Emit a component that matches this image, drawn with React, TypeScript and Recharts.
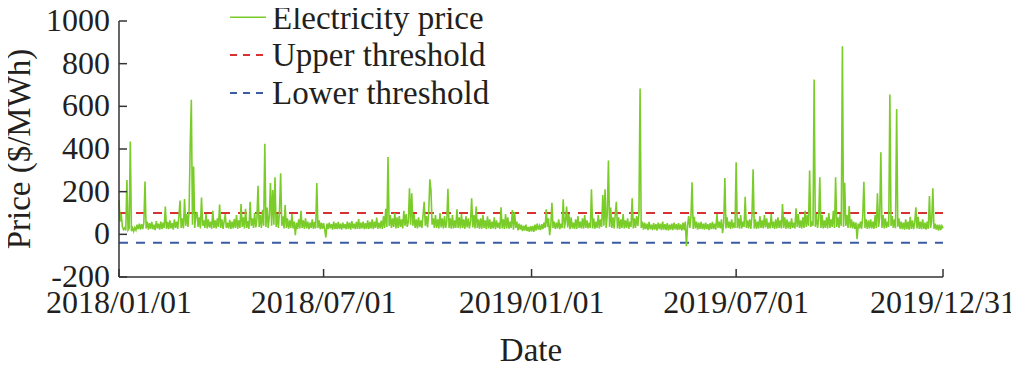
import React from 'react';
import { LineChart, Line, XAxis, YAxis, ReferenceLine, Legend, Label } from 'recharts';

// Daily electricity price ($/MWh); index 0 = 2018/01/01
const price2018: number[] = [
  160, 60, 95, 35, 22, 30, 18, 255, 20, 28, 435, 15, 30, 14, 32, 20, 45, 24, 50, 22,
  48, 25, 55, 247, 28, 60, 22, 52, 26, 58, 24, 45, 20, 62, 28, 50, 22, 60, 25, 55,
  30, 130, 26, 58, 24, 65, 28, 52, 22, 70, 30, 60, 26, 85, 158, 30, 75, 28, 165, 40,
  95, 35, 110, 416, 631, 45, 318, 30, 90, 105, 35, 80, 28, 172, 40, 65, 30, 95, 28, 70,
  32, 60, 26, 110, 30, 65, 28, 75, 35, 140, 30, 70, 26, 60, 95, 30, 55, 28, 68, 25,
  60, 28, 72, 30, 90, 26, 65, 30, 142, 35, 80, 28, 120, 30, 62, 26, 153, 40, 75, 30,
  100, 32, 70, 228, 35, 90, 30, 115, 40, 424, 35, 125, 30, 85, 240, 40, 208, 45, 268, 35,
  95, 30, 110, 286, 40, 85, 28, 137, 30, 75, 26, 65, 30, 95, 28, 60, -4, 55, 25, 70,
  28, 110, 30, 65, 26, 75, 28, 60, 24, 55, 30, 70, 26, 58, 28, 240, 30, 65, 24, 55,
  26, 52, 22, -15, 50, 24, 55, 28, 48, 22, 60, 25, 52, 24, 58, 26, 50, 22, 55, 28,
  48, 24, 60, 26, 55, 22, 62, 28, 50, 24, 58, 26, 72, 25, 55, 28, 60, 24, 52, 26,
  65, 25, 58, 28, 70, 24, 60, 30, 78, 26, 55, 28, 64, 25, 85, 30, 120, 35, 362, 40,
  90, 30, 75, 35, 100, 28, 80, 30, 85, 35, 70, 28, 110, 40, 95, 35, 60, 216, 45, 192,
  40, 95, 30, 70, 28, 80, 34, 65, 30, 90, 153, 40, 85, 32, 100, 258, 208, 45, 75, 30,
  90, 30, 70, 28, 100, 32, 75, 28, 85, 30, 60, 213, 30, 75, 26, 90, 28, 65, 30, 117,
  30, 80, 28, 95, 30, 70, 26, 85, 32, 75, 28, 60, 169, 32, 90, 28, 130, 30, 70, 26,
  75, 26, 90, 30, 65, 24, 85, 28, 70, 26, 60, 28, 80, 24, 65, 30, 55, 26, 127, 28,
  70, 25, 95, 28, 80, 26, 60, 30, 114, 22, 105, 30, 60, 18, 50, 22, 45, 15, 40, 18,
  45, 15, 35, 12, 38,
];

// Daily electricity price ($/MWh); index 0 = 2019/01/01
const price2019: number[] = [
  14, 40, 12, 45, 18, 50, 22, 40, 20, 48, 25, 55, 30, 117, 35, 75, -4, 40, 148, 30,
  60, 25, 55, 28, 70, 24, 50, 30, 164, 28, 60, 130, 32, 95, 24, 80, 28, 55, 26, 70,
  25, 85, 30, 60, 28, 75, 26, 90, 30, 65, 28, 55, 30, 211, 28, 75, 26, 60, 30, 90,
  28, 70, 35, 184, 40, 211, 30, 95, 346, 35, 125, 30, 80, 28, 90, 153, 28, 80, 25, 70,
  30, 95, 28, 65, 30, 75, 26, 60, 35, 169, 28, 75, 30, 85, 40, 95, 683, 30, 60, 22,
  55, 25, 50, 20, 58, 24, 45, 20, 52, 22, 48, 18, 55, 24, 50, 20, 60, 22, 48, 20,
  52, 18, 45, 22, 50, 20, 55, 24, 48, 20, 52, 22, 46, 18, 55, 20, 60, -56, 40, 85,
  30, 82, 244, 25, 82, 28, 60, 22, 55, 26, 58, 24, 50, 22, 55, 25, 48, 20, 52, 24,
  58, 24, 50, 22, 95, 30, 60, 28, 70, 5, 55, 264, 28, 80, 30, 60, 25, 70, 28, 55,
  30, 338, 30, 75, 26, 90, 28, 60, 35, 176, 30, 65, 28, 70, 26, 85, 305, 28, 70, 25,
  60, 28, 85, 30, 65, 28, 90, 32, 75, 26, 55, 28, 95, 30, 60, 26, 70, 28, 80, 30,
  65, 28, 142, 30, 80, 26, 70, 28, 60, 25, 75, 30, 55, 28, 122, 35, 95, 30, 65, 28,
  80, 30, 110, 35, 90, 40, 299, 35, 60, 40, 726, 35, 95, 30, 70, 268, 30, 90, 28, 65,
  30, 80, 28, 100, 30, 70, 35, 110, 30, 268, 35, 80, 30, 95, 40, 882, 35, 242, 40, 90,
  30, 133, 30, 70, 28, 60, 26, 55, -23, 50, 28, 60, 26, 85, 246, 30, 70, 26, 65, 28,
  70, 28, 60, 26, 90, 30, 192, 35, 80, 385, 30, 90, 28, 75, 30, 60, 35, 655, 40, 85,
  30, 70, 28, 588, 35, 75, 26, 60, 24, 55, 22, 70, 24, 60, 22, 82, 25, 65, 24, 55,
  127, 28, 82, 25, 60, 24, 70, 26, 55, 22, 60, 26, 180, 30, 60, 216, 26, 50, 22, 45,
  18, 45, 20, 40, 28,
];

const UPPER_THRESHOLD = 100;
const LOWER_THRESHOLD = -40;

const X_TICK_DAYS = [0, 181, 365, 546, 729];
const X_TICK_LABELS = ['2018/01/01', '2018/07/01', '2019/01/01', '2019/07/01', '2019/12/31'];
const Y_TICKS = [-200, 0, 200, 400, 600, 800, 1000];

const GREEN = '#7acc29';
const RED = '#d63232';
const BLUE = '#3b5ba5';
const AXIS = '#333333';
const TEXT = '#231f20';
const FONT = '"Liberation Serif", "Times New Roman", serif';
const FS = 32;
const FS_LEGEND = 33;

const LEGEND_ITEMS = [
  { label: 'Electricity price', color: GREEN, dash: undefined as string | undefined, width: 1.5 },
  { label: 'Upper threshold', color: RED, dash: '7 6', width: 2 },
  { label: 'Lower threshold', color: BLUE, dash: '7 6', width: 2 },
];

const data = [...price2018, ...price2019].map((price, day) => ({ day, price }));

const XTick = (props: any) => {
  const { x, y, payload } = props;
  const idx = X_TICK_DAYS.indexOf(payload.value);
  return (
    <g>
      <line x1={x} x2={x} y1={y} y2={y - 8} stroke={AXIS} strokeWidth={1.5} />
      <text x={x} y={y + 36} textAnchor="middle" fontSize={FS} fontFamily={FONT} fill={TEXT}>
        {idx >= 0 ? X_TICK_LABELS[idx] : ''}
      </text>
    </g>
  );
};

const YTick = (props: any) => {
  const { x, y, payload } = props;
  return (
    <g>
      <line x1={x} x2={x + 8} y1={y} y2={y} stroke={AXIS} strokeWidth={1.5} />
      <text x={x - 9} y={y + 10} textAnchor="end" fontSize={FS} fontFamily={FONT} fill={TEXT}>
        {payload.value}
      </text>
    </g>
  );
};

const renderLegend = () => (
  <svg width={300} height={115} style={{ display: 'block', overflow: 'visible' }}>
    {LEGEND_ITEMS.map((item, i) => (
      <g key={item.label}>
        <line
          x1={2}
          x2={38}
          y1={17.3 + 37.8 * i}
          y2={17.3 + 37.8 * i}
          stroke={item.color}
          strokeWidth={item.width}
          strokeDasharray={item.dash}
        />
        <text x={44} y={28.5 + 37.6 * i} fontSize={FS_LEGEND} fontFamily={FONT} fill={TEXT}>
          {item.label}
        </text>
      </g>
    ))}
  </svg>
);

export default function App() {
  return (
    <div style={{ marginLeft: -8, marginTop: -8, width: 1019, height: 373, background: '#fff', position: 'relative' }}>
      <LineChart width={1019} height={373} data={data} margin={{ top: 21, right: 76, bottom: 0, left: 0 }}>
        <XAxis
          dataKey="day"
          type="number"
          domain={[0, 729]}
          ticks={X_TICK_DAYS}
          interval={0}
          tick={<XTick />}
          tickLine={false}
          tickSize={0}
          tickMargin={0}
          height={96}
          axisLine={{ stroke: AXIS, strokeWidth: 1.5 }}
        >
          <Label value="Date" position="insideBottom" offset={12} fontSize={FS_LEGEND} fontFamily={FONT} fill={TEXT} />
        </XAxis>
        <YAxis
          type="number"
          domain={[-200, 1000]}
          ticks={Y_TICKS}
          interval={0}
          tick={<YTick />}
          tickLine={false}
          tickSize={0}
          tickMargin={0}
          width={119}
          axisLine={{ stroke: AXIS, strokeWidth: 1.5 }}
        >
          <Label value="Price ($/MWh)" angle={-90} position="center" dx={-41.7} fontSize={FS_LEGEND} fontFamily={FONT} fill={TEXT} />
        </YAxis>
        <ReferenceLine y={UPPER_THRESHOLD} stroke={RED} strokeWidth={2} strokeDasharray="9 8" ifOverflow="visible" />
        <ReferenceLine y={LOWER_THRESHOLD} stroke={BLUE} strokeWidth={2} strokeDasharray="9 8" ifOverflow="visible" />
        <Line
          type="linear"
          dataKey="price"
          stroke={GREEN}
          strokeWidth={1.6}
          dot={false}
          activeDot={false}
          isAnimationActive={false}
        />
        <Legend
          layout="vertical"
          align="center"
          verticalAlign="middle"
          content={renderLegend}
          wrapperStyle={{ position: 'absolute', left: 228, top: 0, width: 300, height: 115 }}
        />
      </LineChart>
    </div>
  );
}
